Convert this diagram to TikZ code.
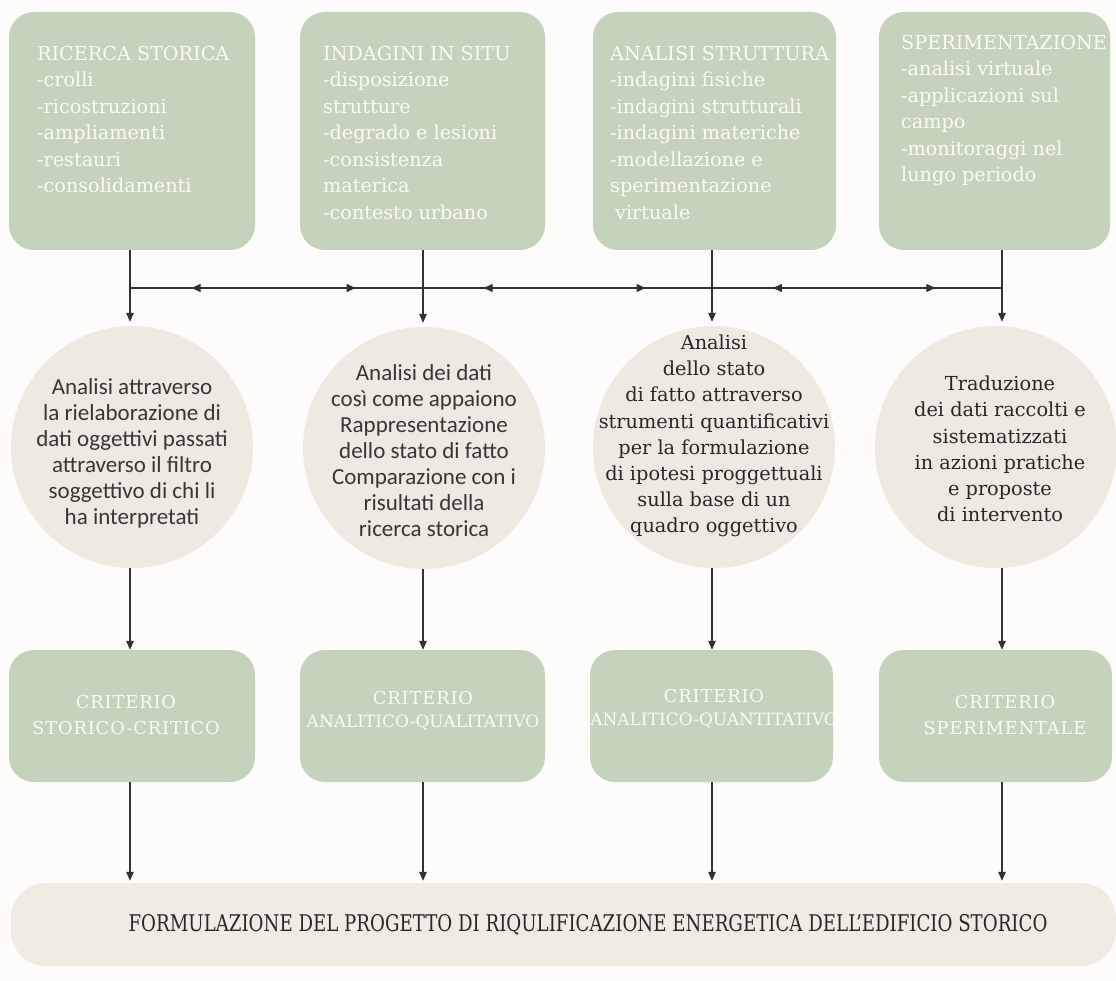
\documentclass[tikz,border=0pt]{standalone}
\usepackage{fontspec}
\setmainfont{DejaVu Serif}
\newfontfamily\carlito{Carlito}
\usetikzlibrary{arrows.meta,decorations.markings,calc}

\definecolor{bgc}{RGB}{253,252,250}
\definecolor{sage}{RGB}{197,211,189}
\definecolor{circc}{RGB}{238,234,226}
\definecolor{bandc}{RGB}{240,235,227}
\definecolor{ink}{RGB}{40,40,40}
\definecolor{softink}{RGB}{55,55,55}
\definecolor{linec}{RGB}{50,50,50}
\definecolor{boxtext}{RGB}{250,250,246}

\begin{document}
\begin{tikzpicture}[x=1pt,y=-1pt,
  greenbox/.style={fill=sage, draw=none, rounded corners=25pt, inner sep=0pt},
  critbox/.style={greenbox, minimum height=132pt},
  bubble/.style={circle, fill=circc, draw=none, minimum size=242pt, inner sep=0pt},
  boxtxt/.style={anchor=north west, inner sep=0pt, align=left, text=boxtext,
    font=\fontsize{19.2}{26.5}\selectfont},
  crittxt/.style={inner sep=0pt, align=center, text=boxtext},
  sanstxt/.style={inner sep=0pt, align=center, text=softink,
    font=\carlito\fontsize{23}{26}\selectfont},
  seriftxt/.style={inner sep=0pt, align=center, text=ink,
    font=\fontsize{19.3}{26.2}\selectfont},
  conn/.style={draw=linec, line width=1.2pt},
  arr/.style={conn, -{Triangle[length=9pt,width=7.5pt]}},
  hmarks/.style={conn, postaction={decorate}, decoration={markings,
    mark=at position 0.21 with {\arrowreversed{Triangle[length=9pt,width=8pt]}},
    mark=at position 0.77 with {\arrow{Triangle[length=9pt,width=8pt]}}}}
]
\fill[bgc] (0,0) rectangle (1116,981);
\useasboundingbox (0,0) rectangle (1116,981);

% top boxes
\node[greenbox, minimum width=246pt, minimum height=238pt] (b1) at (132,131) {};
\node[greenbox, minimum width=245pt, minimum height=238pt] (b2) at (422.5,131) {};
\node[greenbox, minimum width=243pt, minimum height=238pt] (b3) at (714.5,131) {};
\node[greenbox, minimum width=231pt, minimum height=238pt] (b4) at (994.5,131) {};

\node[boxtxt] (tb1) at (37,46) {RICERCA STORICA\\-crolli\\-ricostruzioni\\-ampliamenti\\-restauri\\-consolidamenti};
\node[boxtxt] (tb2) at (323,46) {INDAGINI IN SITU\\-disposizione\\strutture\\-degrado e lesioni\\-consistenza\\materica\\-contesto urbano};
\node[boxtxt] (tb3) at (610,46) {ANALISI STRUTTURA\\-indagini fisiche\\-indagini strutturali\\-indagini materiche\\-modellazione e\\sperimentazione\\\hspace{5pt}virtuale};
\node[boxtxt] (tb4) at (901,35) {SPERIMENTAZIONE\\-analisi virtuale\\-applicazioni sul\\campo\\-monitoraggi nel\\lungo periodo};

% column coordinates on the horizontal line
\coordinate (h1) at (130,288);
\coordinate (h2) at (423,288);
\coordinate (h3) at (712,288);
\coordinate (h4) at (1002,288);

% circles
\node[bubble] (c1) at (132,447) {};
\node[bubble] (c2) at (424,448) {};
\node[bubble] (c3) at (714,447) {};
\node[bubble] (c4) at (996,447) {};

\node[sanstxt] (tc1) at (132,453) {Analisi attraverso\\la rielaborazione di\\dati oggettivi passati\\attraverso il filtro\\soggettivo di chi li\\ha interpretati};
\node[sanstxt] (tc2) at (424,451) {Analisi dei dati\\così come appaiono\\Rappresentazione\\dello stato di fatto\\Comparazione con i\\risultati della\\ricerca storica};
\node[seriftxt] (tc3) at (714,436) {Analisi\\dello stato\\di fatto attraverso\\strumenti quantificativi\\per la formulazione\\di ipotesi proggettuali\\sulla base di un\\quadro oggettivo};
\node[seriftxt] (tc4) at (1000,449) {Traduzione\\dei dati raccolti e\\sistematizzati\\in azioni pratiche\\e proposte\\di intervento};

% criterion boxes
\node[critbox, minimum width=246pt] (k1) at (132,716) {};
\node[critbox, minimum width=245pt] (k2) at (422.5,716) {};
\node[critbox, minimum width=243pt] (k3) at (711.5,716) {};
\node[critbox, minimum width=233pt] (k4) at (995.5,716) {};

\node[crittxt, font=\fontsize{17.8}{26}\selectfont\addfontfeatures{LetterSpace=5}] (tk1) at (126,715) {CRITERIO\\STORICO-CRITICO};
\node[crittxt, font=\fontsize{17}{23}\selectfont] (tk2) at (423,711) {{\addfontfeatures{LetterSpace=5}\fontsize{17.8}{23}\selectfont CRITERIO}\\ANALITICO-QUALITATIVO};
\node[crittxt, font=\fontsize{17}{23}\selectfont] (tk3) at (714,709) {{\addfontfeatures{LetterSpace=5}\fontsize{17.8}{23}\selectfont CRITERIO}\\ANALITICO-QUANTITATIVO};
\node[crittxt, font=\fontsize{17.8}{26}\selectfont\addfontfeatures{LetterSpace=5}] (tk4) at (1005,715) {CRITERIO\\SPERIMENTALE};

% bottom band
\node[fill=bandc, draw=none, rounded corners=35pt, minimum width=1105pt, minimum height=83pt, inner sep=0pt] (band) at (563.5,924.5) {};
\node[inner sep=0pt, text=ink, font=\fontsize{23}{26}\selectfont] (tband) at (588,925) {\scalebox{0.79}[1]{FORMULAZIONE DEL PROGETTO DI RIQULIFICAZIONE ENERGETICA DELL’EDIFICIO STORICO}};

% connectors: top boxes to circles
\draw[arr, shorten >=4pt] (b1.south -| h1) -- (c1.north -| h1);
\draw[arr, shorten >=4pt] (b2.south -| h2) -- (c2.north -| h2);
\draw[arr, shorten >=4pt] (b3.south -| h3) -- (c3.north -| h3);
\draw[arr, shorten >=4pt] (b4.south -| h4) -- (c4.north -| h4);

% horizontal line with arrowheads
\draw[hmarks] (h1) -- (h2);
\draw[hmarks] (h2) -- (h3);
\draw[hmarks] (h3) -- (h4);

% circles to criterion boxes
\draw[arr] (c1.south -| h1) -- (k1.north -| h1);
\draw[arr] (c2.south -| h2) -- (k2.north -| h2);
\draw[arr] (c3.south -| h3) -- (k3.north -| h3);
\draw[arr] (c4.south -| h4) -- (k4.north -| h4);

% criterion boxes to band
\draw[arr, shorten >=2pt] (k1.south -| h1) -- (band.north -| h1);
\draw[arr, shorten >=2pt] (k2.south -| h2) -- (band.north -| h2);
\draw[arr, shorten >=2pt] (k3.south -| h3) -- (band.north -| h3);
\draw[arr, shorten >=2pt] (k4.south -| h4) -- (band.north -| h4);
\end{tikzpicture}
\end{document}
